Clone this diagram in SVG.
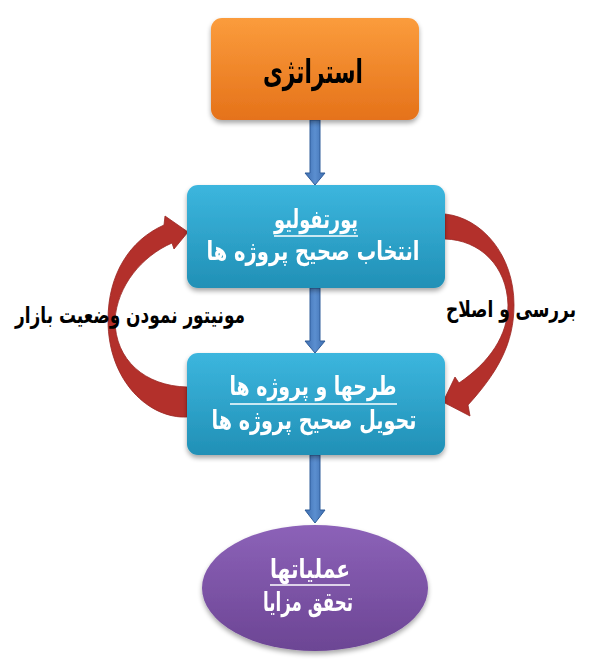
<svg xmlns="http://www.w3.org/2000/svg" width="606" height="660" viewBox="0 0 606 660">
<defs>
<linearGradient id="gOrange" x1="0" y1="0" x2="0" y2="1">
<stop offset="0" stop-color="#fb9c3c"/>
<stop offset="1" stop-color="#e5721a"/>
</linearGradient>
<linearGradient id="gBlue" x1="0" y1="0" x2="0" y2="1">
<stop offset="0" stop-color="#3cb6de"/>
<stop offset="1" stop-color="#2190b6"/>
</linearGradient>
<linearGradient id="gPurple" x1="0" y1="0" x2="0" y2="1">
<stop offset="0" stop-color="#8c62b8"/>
<stop offset="1" stop-color="#6c4594"/>
</linearGradient>
<linearGradient id="gShaft" x1="0" y1="0" x2="1" y2="0">
<stop offset="0" stop-color="#3d6db0"/>
<stop offset="0.5" stop-color="#5b8fd0"/>
<stop offset="1" stop-color="#3d6db0"/>
</linearGradient>
<filter id="shadow" x="-10%" y="-10%" width="120%" height="130%">
<feGaussianBlur in="SourceAlpha" stdDeviation="2.5"/>
<feOffset dx="0" dy="3" result="b"/>
<feComponentTransfer><feFuncA type="linear" slope="0.35"/></feComponentTransfer>
<feMerge><feMergeNode/><feMergeNode in="SourceGraphic"/></feMerge>
</filter>
</defs>
<style>
.t{font-family:"DejaVu Sans","Noto Sans",sans-serif;font-weight:bold;text-anchor:middle;direction:rtl}
.w{fill:#ffffff}
.k{fill:#000000}
.ul{stroke:#ffffff;stroke-width:1.6}
.arc{fill:#b3302b;stroke:#9a2622;stroke-width:0.8}
.flow{fill:url(#gShaft);stroke:#2f5d99;stroke-width:1}
</style>
<rect width="606" height="660" fill="#ffffff"/>
<g id="connectors">
<path class="flow" d="M310,120 L320,120 L320,173 L325,173 L315,185 L305,173 L310,173 Z"/>
<path class="flow" d="M310,288 L320,288 L320,341 L325,341 L315,353 L305,341 L310,341 Z"/>
<path class="flow" d="M310,455 L320,455 L320,510 L325,510 L315,523 L305,510 L310,510 Z"/>
<path id="arc-left" class="arc" d="M187,417 C150,419 108,382 108,320 C108,274 130,240 164,225 L165,216 L188,232 L174,249 L172,243 C142,256 117,286 115,320 C115,360 145,386 187,387 Z"/>
<path id="arc-right" class="arc" d="M445,214 C482,218 514,255 514,305 C514,343 498,372 468,405 L470,416 L443,402 L455,377 L459,383 C490,362 508,335 508,305 C507,266 480,240 445,239 Z"/>
</g>
<g id="strategy" filter="url(#shadow)">
<rect x="211" y="18" width="208" height="102" rx="11" fill="url(#gOrange)"/>
<text class="t k" x="313" y="83" font-size="33" textLength="100" lengthAdjust="spacingAndGlyphs">استراتژی</text>
</g>
<g id="portfolio" filter="url(#shadow)">
<rect x="187" y="185" width="258" height="103" rx="11" fill="url(#gBlue)"/>
<text class="t w" x="316" y="228" font-size="26" textLength="84" lengthAdjust="spacingAndGlyphs">پورتفولیو</text>
<line class="ul" x1="274" y1="236" x2="358" y2="236"/>
<text class="t w" x="313" y="260" font-size="26" textLength="213" lengthAdjust="spacingAndGlyphs">انتخاب صحیح پروژه ها</text>
</g>
<g id="projects" filter="url(#shadow)">
<rect x="187" y="353" width="258" height="102" rx="11" fill="url(#gBlue)"/>
<text class="t w" x="313" y="395" font-size="26" textLength="167" lengthAdjust="spacingAndGlyphs">طرحها و پروژه ها</text>
<line class="ul" x1="230" y1="404" x2="397" y2="404"/>
<text class="t w" x="314" y="429" font-size="26" textLength="205" lengthAdjust="spacingAndGlyphs">تحویل صحیح پروژه ها</text>
</g>
<g id="operations" filter="url(#shadow)">
<ellipse cx="315" cy="588" rx="113" ry="63" fill="url(#gPurple)"/>
<text class="t w" x="310" y="578" font-size="26" textLength="80" lengthAdjust="spacingAndGlyphs">عملیاتها</text>
<line class="ul" x1="270" y1="585" x2="350" y2="585"/>
<text class="t w" x="308" y="611" font-size="26" textLength="90" lengthAdjust="spacingAndGlyphs">تحقق مزایا</text>
</g>
<g id="labels">
<text class="t k" x="130" y="323" font-size="23" textLength="230" lengthAdjust="spacingAndGlyphs">مونیتور نمودن وضعیت بازار</text>
<text class="t k" x="511" y="317" font-size="23" textLength="130" lengthAdjust="spacingAndGlyphs">بررسی و اصلاح</text>
</g>
</svg>
